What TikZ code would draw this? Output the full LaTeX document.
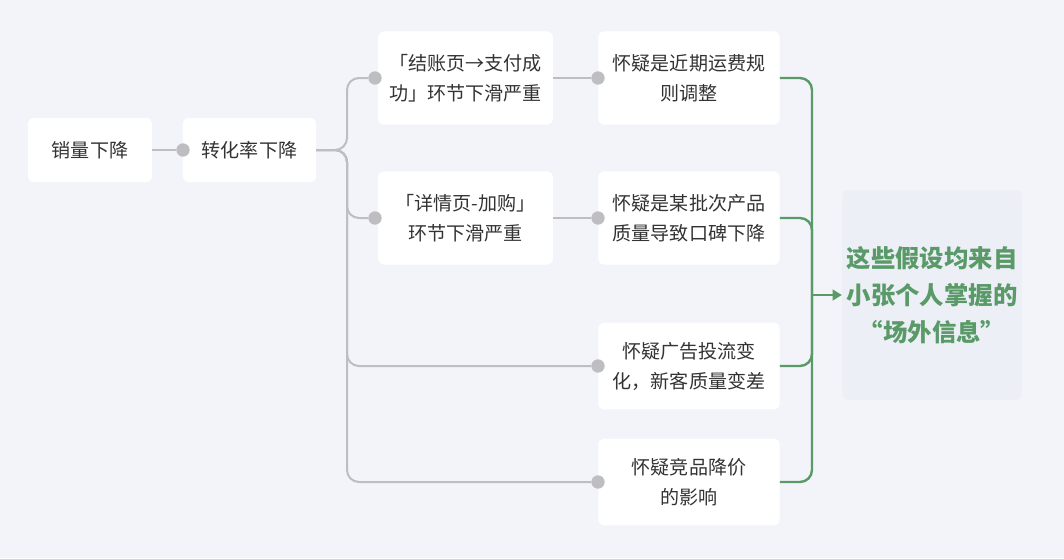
\documentclass[tikz,border=0pt]{standalone}
\usepackage{fontspec}
\setmainfont{Noto Sans CJK SC}
\usetikzlibrary{arrows.meta}
\definecolor{bg}{HTML}{F3F4F9}
\definecolor{ln}{HTML}{BDBDC2}
\definecolor{gr}{HTML}{5A9A68}
\definecolor{tx}{HTML}{333333}
\definecolor{hb}{HTML}{EDEFF7}
\begin{document}
\begin{tikzpicture}[x=0.75pt,y=-0.75pt,
  box/.style={fill=white,rounded corners=4pt,draw=none,align=center,text=tx,font=\fontsize{14.3}{22.5}\selectfont,inner sep=0pt},
  dot/.style={circle,fill=ln,minimum size=10pt,inner sep=0pt},
  gl/.style={draw=ln,line width=1.5pt,rounded corners=9pt},
  gg/.style={draw=gr,line width=1.8pt,rounded corners=9pt}]
\fill[bg] (0,0) rectangle (1064,558);
\useasboundingbox (0,0) rectangle (1064,558);
\node[box,minimum width=93pt,minimum height=48pt] (s) at (90,150) {销量下降};
\node[box,minimum width=100pt,minimum height=48pt] (z) at (249.5,150) {转化率下降};
\node[box,minimum width=131pt,minimum height=70pt] (a) at (465.5,78) {「结账页→支付成\\功」环节下滑严重};
\node[box,minimum width=131pt,minimum height=70pt] (b) at (465.5,218) {「详情页-加购」\\环节下滑严重};
\node[box,minimum width=136pt,minimum height=70pt] (c) at (689,78) {怀疑是近期运费规\\则调整};
\node[box,minimum width=136pt,minimum height=70pt] (d) at (689,218) {怀疑是某批次产品\\质量导致口碑下降};
\node[box,minimum width=136pt,minimum height=65pt] (e) at (689,366) {怀疑广告投流变\\化，新客质量变差};
\node[box,minimum width=136pt,minimum height=65pt] (f) at (689,482) {怀疑竞品降价\\的影响};
\node[fill=hb,rounded corners=4pt,minimum width=131pt,minimum height=157pt,align=center,text=gr,font=\fontsize{18.3}{28}\selectfont\bfseries] (h) at (932,295) {这些假设均来自\\小张个人掌握的\\“场外信息”};
\node[dot] (d1) at (183,150) {};
\node[dot] (da) at (375,78) {};
\node[dot] (db) at (375,218) {};
\node[dot] (dc) at (598,78) {};
\node[dot] (dd) at (598,218) {};
\node[dot] (de) at (598,366) {};
\node[dot] (df) at (598,482) {};
\draw[draw=ln,line width=1.5pt] (s.east) -- (d1);
\draw[gl] (z.east) -| (347,78) -- (da);
\draw[gl] (z.east) -| (347,218) -- (db);
\draw[gl] (z.east) -| (347,366) -- (de);
\draw[gl] (z.east) -| (347,482) -- (df);
\draw[draw=ln,line width=1.5pt] (a.east) -- (dc);
\draw[draw=ln,line width=1.5pt] (b.east) -- (dd);
\coordinate (m) at (812,295);
\draw[gg] (c.east) -| (m);
\draw[gg] (d.east) -| (m);
\draw[gg] (e.east) -| (m);
\draw[gg] (f.east) -| (m);
\draw[draw=gr,line width=1.8pt,-{Triangle[length=7pt,width=8pt]}] (m) -- (h.west);
\end{tikzpicture}
\end{document}
